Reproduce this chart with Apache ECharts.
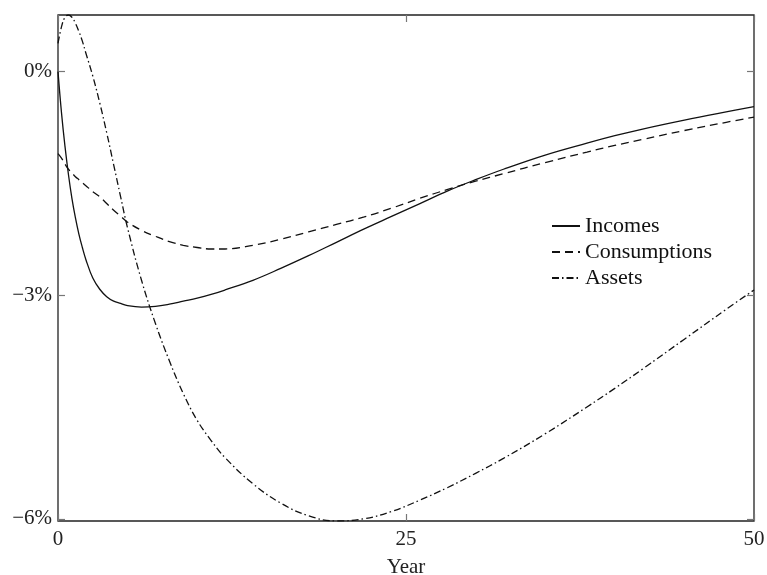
<!DOCTYPE html>
<html>
<head>
<meta charset="utf-8">
<title>Incomes, consumptions and assets</title>
<script src="https://cdn.jsdelivr.net/npm/echarts@6/dist/echarts.min.js"></script>
<style>
  html, body { margin: 0; padding: 0; background: #fff; }
  #chart { width: 767px; height: 575px; }
</style>
</head>
<body>
<div id="chart"></div>
<script>
// years on the x axis, shared by all three series
var years = [0, 0.25, 0.5, 0.75, 1, 1.25, 1.5, 1.75, 2, 2.5, 3, 3.5, 4, 4.5, 5, 6, 7, 8, 9, 10, 11, 12, 14, 16, 18, 20, 22, 24, 26, 28, 30, 32, 35, 38, 40, 42, 45, 48, 50];

// deviation in percent
var incomes = [0, -0.55, -1.0, -1.38, -1.70, -1.96, -2.18, -2.36, -2.52, -2.77, -2.92, -3.02, -3.08, -3.11, -3.14, -3.16, -3.15, -3.12, -3.08, -3.04, -2.99, -2.93, -2.80, -2.64, -2.47, -2.29, -2.11, -1.94, -1.77, -1.60, -1.45, -1.31, -1.12, -0.96, -0.86, -0.77, -0.65, -0.54, -0.47];
var consumptions = [-1.10, -1.16, -1.24, -1.31, -1.36, -1.41, -1.45, -1.49, -1.53, -1.61, -1.68, -1.77, -1.86, -1.94, -2.02, -2.13, -2.21, -2.28, -2.33, -2.36, -2.38, -2.38, -2.33, -2.25, -2.15, -2.05, -1.95, -1.83, -1.70, -1.58, -1.47, -1.37, -1.22, -1.08, -0.99, -0.91, -0.79, -0.68, -0.61];
var assets = [0.38, 0.60, 0.73, 0.76, 0.73, 0.65, 0.54, 0.41, 0.25, -0.06, -0.42, -0.82, -1.25, -1.68, -2.10, -2.80, -3.38, -3.88, -4.32, -4.68, -4.95, -5.18, -5.53, -5.79, -5.96, -6.03, -6.00, -5.90, -5.75, -5.58, -5.39, -5.19, -4.86, -4.50, -4.25, -3.99, -3.59, -3.19, -2.93];

var xTicks = [0, 25, 50];
var yTicks = [-6, -3, 0];

var seriesNames = ['Incomes', 'Consumptions', 'Assets'];
var seriesValues = [incomes, consumptions, assets];
var lineTypes = ['solid', [8, 5], [7, 3, 1.5, 3]];

var font = 'Liberation Serif, Times New Roman, serif';

function pairs(vals) {
  return years.map(function (y, i) { return [y, vals[i]]; });
}

function fmtPct(v) {
  return (v < 0 ? '\u2212' + Math.abs(v) : v) + '%';
}

var chart = echarts.init(document.getElementById('chart'), null, { renderer: 'canvas' });

function ticks(vals) {
  return { inside: true, length: 7, customValues: vals, lineStyle: { color: '#777', width: 1.2 } };
}
var noLine = { show: false, onZero: false };

var option = {
  backgroundColor: '#fff',
  animation: false,
  grid: {
    left: 58, right: 13, top: 15, bottom: 54,
    containLabel: false,
    outerBoundsMode: 'none',
    show: true, borderColor: '#222', borderWidth: 1.3
  },
  legend: {
    orient: 'vertical',
    left: 546, top: 210,
    itemWidth: 28, itemHeight: 14, itemGap: 4,
    itemStyle: { opacity: 0 },
    textStyle: { fontFamily: font, fontSize: 22, color: '#111' },
    data: seriesNames
  },
  xAxis: [{
    type: 'value', min: 0, max: 50, position: 'bottom',
    axisLine: noLine,
    axisTick: ticks(xTicks),
    axisLabel: { customValues: xTicks, margin: 8, fontFamily: font, fontSize: 21, color: '#222' },
    splitLine: { show: false },
    name: 'Year', nameLocation: 'middle', nameGap: 36,
    nameTextStyle: { fontFamily: font, fontSize: 21, color: '#222' }
  }, {
    type: 'value', min: 0, max: 50, position: 'top',
    axisLine: noLine,
    axisTick: ticks(xTicks),
    axisLabel: { show: false },
    splitLine: { show: false }
  }],
  yAxis: [{
    type: 'value', min: -6.03, max: 0.76, position: 'left',
    axisLine: noLine,
    axisTick: ticks(yTicks),
    axisLabel: { customValues: yTicks, margin: 6, fontFamily: font, fontSize: 21, color: '#222', formatter: fmtPct },
    splitLine: { show: false }
  }, {
    type: 'value', min: -6.03, max: 0.76, position: 'right',
    axisLine: noLine,
    axisTick: ticks(yTicks),
    axisLabel: { show: false },
    splitLine: { show: false }
  }],
  series: seriesNames.map(function (name, i) {
    return {
      name: name,
      type: 'line',
      xAxisIndex: 0,
      yAxisIndex: 0,
      data: pairs(seriesValues[i]),
      symbol: 'none',
      smooth: 0.4,
      color: '#111',
      lineStyle: { color: '#111', width: 1.3, type: lineTypes[i] }
    };
  })
};

chart.setOption(option);
</script>
</body>
</html>
